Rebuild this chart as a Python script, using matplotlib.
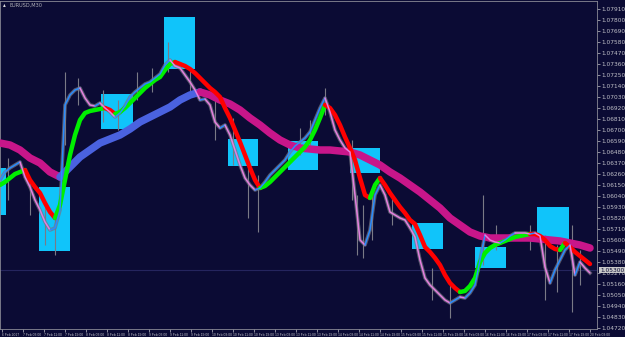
import numpy as np
import matplotlib
matplotlib.use("Agg")
import matplotlib.pyplot as plt
from matplotlib.patches import Rectangle

symbol = "EURUSD,M30"

time_labels = ["6 Feb 2017", "7 Feb 03:00", "7 Feb 11:00", "7 Feb 19:00", "8 Feb 03:00",
               "8 Feb 11:00", "8 Feb 19:00", "9 Feb 03:00", "9 Feb 11:00", "9 Feb 19:00",
               "10 Feb 03:00", "10 Feb 11:00", "10 Feb 19:00", "13 Feb 03:00", "13 Feb 11:00",
               "13 Feb 19:00", "14 Feb 03:00", "14 Feb 11:00", "14 Feb 19:00", "15 Feb 03:00",
               "15 Feb 11:00", "15 Feb 19:00", "16 Feb 03:00", "16 Feb 11:00", "16 Feb 19:00",
               "17 Feb 03:00", "17 Feb 11:00", "17 Feb 19:00", "20 Feb 03:00"]

# fast line, one value every 5 bars
fast = [1.0620, 1.0628, 1.0632, 1.0635, 1.0638, 1.0623, 1.0613, 1.0600, 1.0590, 1.0578,
        1.0570, 1.0572, 1.0590, 1.0695, 1.0705, 1.0710, 1.0712, 1.0702, 1.0695, 1.0694,
        1.0697, 1.0692, 1.0688, 1.0683, 1.0687, 1.0694, 1.0703, 1.0708, 1.0712, 1.0716,
        1.0718, 1.0722, 1.0726, 1.0735, 1.0740, 1.0734, 1.0732, 1.0725, 1.0718, 1.0710,
        1.0700, 1.0701, 1.0695, 1.0678, 1.0672, 1.0675, 1.0665, 1.0650, 1.0635, 1.0622,
        1.0615, 1.0610, 1.0612, 1.0618, 1.0625, 1.0630, 1.0635, 1.0640, 1.0648, 1.0654,
        1.0658, 1.0662, 1.0668, 1.0680, 1.0692, 1.0702, 1.0688, 1.0670, 1.0660, 1.0652,
        1.0648, 1.0605, 1.0560, 1.0555, 1.0570, 1.0605, 1.0615, 1.0605, 1.0588, 1.0585,
        1.0582, 1.0580, 1.0572, 1.0563, 1.0540, 1.0522, 1.0515, 1.0510, 1.0505, 1.0500,
        1.0497, 1.0500, 1.0503, 1.0502, 1.0507, 1.0515, 1.0540, 1.0565, 1.0560, 1.0558,
        1.0557, 1.0560, 1.0564, 1.0567, 1.0567, 1.0567, 1.0566, 1.0567, 1.0564, 1.0533,
        1.0517, 1.0530, 1.0540, 1.0550, 1.0555, 1.0525, 1.0538, 1.0532, 1.0527]

# medium line, one value every 5 bars
mid = [1.0615, 1.0618, 1.0622, 1.0626, 1.0628, 1.0630, 1.0620, 1.0613, 1.0607, 1.0597,
       1.0588, 1.0582, 1.0595, 1.0620, 1.0645, 1.0665, 1.0680, 1.0687, 1.0689, 1.0690,
       1.0691, 1.0692, 1.0690, 1.0686, 1.0688, 1.0692, 1.0697, 1.0702, 1.0707, 1.0712,
       1.0716, 1.0720, 1.0723, 1.0730, 1.0736, 1.0738, 1.0736, 1.0734, 1.0731, 1.0727,
       1.0722, 1.0717, 1.0712, 1.0708, 1.0703, 1.0692, 1.0682, 1.0670, 1.0658, 1.0645,
       1.0632, 1.0620, 1.0612, 1.0614, 1.0618, 1.0623, 1.0628, 1.0633, 1.0638, 1.0643,
       1.0648, 1.0653, 1.0660, 1.0670, 1.0682, 1.0695, 1.0692, 1.0685, 1.0675, 1.0663,
       1.0652, 1.0640, 1.0622, 1.0605, 1.0602, 1.0615, 1.0622, 1.0615, 1.0607, 1.0600,
       1.0593, 1.0587, 1.0580, 1.0576, 1.0565, 1.0553, 1.0548, 1.0542, 1.0535, 1.0525,
       1.0517, 1.0512, 1.0508, 1.0509, 1.0514, 1.0522, 1.0538, 1.0547, 1.0552, 1.0555,
       1.0557, 1.0559, 1.0561, 1.0563, 1.0564, 1.0565, 1.0566, 1.0566, 1.0564, 1.0560,
       1.0554, 1.0551, 1.0550, 1.0557, 1.0553, 1.0548, 1.0544, 1.0540, 1.0536]

# slow line, one value every 10 bars
slow = [1.0657, 1.0655, 1.0650, 1.0642, 1.0637, 1.0628, 1.0623, 1.0633, 1.0643, 1.0650,
        1.0657, 1.0661, 1.0665, 1.0671, 1.0678, 1.0683, 1.0688, 1.0693, 1.0700, 1.0705,
        1.0708, 1.0705, 1.0700, 1.0696, 1.0690, 1.0682, 1.0675, 1.0667, 1.0660, 1.0655,
        1.0652, 1.0651, 1.0650, 1.0650, 1.0649, 1.0648, 1.0645, 1.0640, 1.0635, 1.0628,
        1.0622, 1.0615, 1.0608, 1.0600, 1.0592, 1.0582, 1.0575, 1.0568, 1.0564, 1.0562,
        1.0562, 1.0562, 1.0562, 1.0562, 1.0561, 1.0560, 1.0559, 1.0557, 1.0555, 1.0552]

# grey price spikes
spike_x = [8, 30, 45, 55, 65, 78, 103, 118, 137, 152, 168, 190, 215, 233, 248, 258, 300,
           310, 325, 352, 357, 363, 372, 392, 432, 450, 483, 496, 530, 545, 557, 572, 580]
spike_hi = [1.0642, 1.0620, 1.0595, 1.0585, 1.0728, 1.0722, 1.0710, 1.0700, 1.0728, 1.0732,
            1.0758, 1.0732, 1.0708, 1.0682, 1.0640, 1.0625, 1.0672, 1.0680, 1.0712, 1.0660,
            1.0605, 1.0595, 1.0610, 1.0605, 1.0532, 1.0515, 1.0605, 1.0575, 1.0575, 1.0565,
            1.0555, 1.0575, 1.0550]
spike_lo = [1.0600, 1.0585, 1.0555, 1.0545, 1.0655, 1.0695, 1.0678, 1.0670, 1.0700, 1.0708,
            1.0728, 1.0705, 1.0660, 1.0635, 1.0582, 1.0568, 1.0645, 1.0655, 1.0685, 1.0600,
            1.0545, 1.0542, 1.0560, 1.0575, 1.0500, 1.0482, 1.0535, 1.0550, 1.0550, 1.0500,
            1.0508, 1.0488, 1.0515]

# cyan boxes
box_left = [0, 39, 101, 164, 228, 288, 350, 412, 475, 537]
box_right = [6, 70, 133, 195, 258, 318, 380, 443, 506, 569]
box_top = [1.0632, 1.0613, 1.0706, 1.0783, 1.0661, 1.0659, 1.0652, 1.0577, 1.0553, 1.0593]
box_bottom = [1.0585, 1.0549, 1.0671, 1.0731, 1.0634, 1.0630, 1.0627, 1.0551, 1.0532, 1.0559]

last_price = 1.0530
y_ticks = [round(1.0791 - 0.0011 * k, 5) for k in range(30)]

bg = "#0b0b34"
fg = "#c0c0c8"


def draw_colored(ax, x, y, up_color, down_color, lw, z):
    x = np.asarray(x)
    y = np.asarray(y)
    up = np.diff(y) > 0
    start = 0
    for i in range(1, len(up) + 1):
        if i == len(up) or up[i] != up[start]:
            c = up_color if up[start] else down_color
            ax.plot(x[start:i + 1], y[start:i + 1], color=c, lw=lw,
                    solid_capstyle="round", solid_joinstyle="round", zorder=z)
            start = i


fig = plt.figure(figsize=(6.25, 3.37), dpi=100, facecolor=bg)
ax = fig.add_axes([0.0, 8 / 337, 597 / 625, 328 / 337], facecolor=bg)

for l, r, t, b in zip(box_left, box_right, box_top, box_bottom):
    ax.add_patch(Rectangle((l, b), r - l, t - b, facecolor="#10c4fa", edgecolor="none", zorder=1))

ax.axhline(last_price, color="#25255e", lw=0.8, zorder=1.5)

x_fast = np.arange(len(fast)) * 5
x_mid = np.arange(len(mid)) * 5
x_slow = np.arange(len(slow)) * 10

ax.vlines(spike_x, spike_lo, spike_hi, color="#7a7a86", lw=0.8, zorder=2)
ax.plot(x_fast, fast, color="#767682", lw=2.6, alpha=0.7, zorder=2)

draw_colored(ax, x_slow, slow, "#4a62e0", "#c8168a", 5.4, 3)
draw_colored(ax, x_mid, mid, "#00f000", "#ff0000", 3.2, 4)
draw_colored(ax, x_fast, fast, "#2a8cff", "#e67fe0", 1.1, 5)

ax.set_xlim(0, 597)
ax.set_ylim(1.0471, 1.0799)

ax.yaxis.tick_right()
ax.set_yticks(y_ticks)
ax.set_yticklabels([f"{v:.5f}" for v in y_ticks])
ax.tick_params(axis="y", colors=fg, labelsize=4.2, length=2, width=0.5, pad=1)

xt = [2 + 21 * k for k in range(len(time_labels))]
ax.set_xticks(xt)
ax.set_xticklabels(time_labels, ha="left", family="Liberation Sans", fontsize=2.4)
ax.tick_params(axis="x", colors=fg, length=2, width=0.5, pad=1)

for s in ax.spines.values():
    s.set_color("#8a8a96")
    s.set_linewidth(0.6)

ax.text(600, last_price, f"{last_price:.5f}", fontsize=4.2, color="#0b0b34",
        va="center", ha="left", clip_on=False,
        bbox=dict(boxstyle="square,pad=0.15", facecolor="#c8c8c8", edgecolor="none"), zorder=6)

fig.text(3 / 625, 1 - 5 / 337, "\u25b4", fontsize=4, color="#e0e0e0", va="center", ha="left")
fig.text(9 / 625, 1 - 5 / 337, symbol, fontsize=3.6, color="#b0b0b8", va="center", ha="left")

fig.savefig("out.png", dpi=100, facecolor=bg)
